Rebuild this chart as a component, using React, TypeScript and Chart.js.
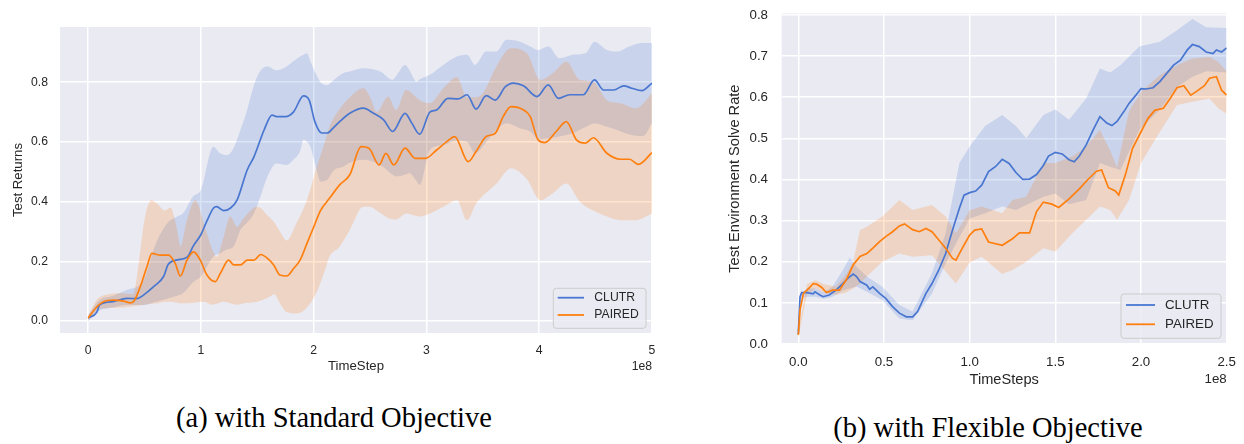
import React, { useEffect, useRef } from "react";
import { Chart, registerables } from "chart.js";

Chart.register(...registerables);

// ---------- shared ----------
const seriesNames = ["CLUTR", "PAIRED"];
const captionA = "(a) with Standard Objective";
const captionB = "(b) with Flexible Objective";
const BLUE = "#4876D0";
const ORANGE = "#FF7F0E";
const BLUE_FILL = "rgba(72,118,208,0.2)";
const ORANGE_FILL = "rgba(255,127,14,0.2)";
const PLOT_BG = "#EAEAF2";
const TEXT = "#262626";
const FONT = "'Liberation Sans', Arial, sans-serif";

// ---------- panel (a) : Standard Objective ----------
const aXTicks = [0, 1, 2, 3, 4, 5];
const aYTicks = [0, 0.2, 0.4, 0.6, 0.8];
// [timestep (1e8), mean]
const aClutrMean = [
  [0, 0.01], [0.077, 0.03], [0.1, 0.054], [0.22, 0.065], [0.34, 0.076], [0.43, 0.075], [0.49, 0.087],
  [0.58, 0.115], [0.67, 0.15], [0.71, 0.19], [0.79, 0.205], [0.88, 0.215], [0.93, 0.25], [1.0, 0.29],
  [1.05, 0.333], [1.11, 0.378], [1.14, 0.383], [1.2, 0.37], [1.26, 0.378], [1.32, 0.405], [1.41, 0.506],
  [1.47, 0.55], [1.56, 0.64], [1.63, 0.69], [1.67, 0.685], [1.75, 0.685], [1.82, 0.7], [1.91, 0.754],
  [1.96, 0.74], [2.01, 0.668], [2.07, 0.63], [2.12, 0.63], [2.18, 0.65], [2.23, 0.668], [2.32, 0.696],
  [2.44, 0.713], [2.53, 0.696], [2.62, 0.674], [2.7, 0.635], [2.81, 0.696], [2.87, 0.663], [2.94, 0.626],
  [3.03, 0.7], [3.09, 0.707], [3.19, 0.746], [3.28, 0.744], [3.36, 0.758], [3.44, 0.71], [3.53, 0.755],
  [3.61, 0.74], [3.7, 0.785], [3.77, 0.797], [3.86, 0.788], [3.98, 0.752], [4.08, 0.791], [4.17, 0.746],
  [4.27, 0.758], [4.39, 0.758], [4.49, 0.808], [4.57, 0.774], [4.66, 0.774], [4.75, 0.788], [4.82, 0.78],
  [4.91, 0.772], [5.0, 0.797],
];
// [timestep, upper, lower]
const aClutrBand = [
  [0, 0.02, 0.0], [0.1, 0.07, 0.035], [0.22, 0.085, 0.045], [0.34, 0.104, 0.054], [0.49, 0.137, 0.054],
  [0.6, 0.26, 0.065], [0.7, 0.327, 0.075], [0.79, 0.35, 0.085], [0.84, 0.36, 0.093], [0.93, 0.417, 0.13],
  [1.0, 0.44, 0.149], [1.11, 0.584, 0.216], [1.17, 0.562, 0.227], [1.23, 0.556, 0.24], [1.29, 0.58, 0.25],
  [1.35, 0.64, 0.305], [1.41, 0.707, 0.33], [1.47, 0.79, 0.361], [1.53, 0.84, 0.42], [1.59, 0.853, 0.484],
  [1.67, 0.84, 0.528], [1.76, 0.853, 0.523], [1.82, 0.87, 0.54], [1.88, 0.886, 0.57], [1.91, 0.892, 0.607],
  [1.94, 0.897, 0.6], [1.97, 0.87, 0.584], [2.03, 0.82, 0.5], [2.06, 0.8, 0.467], [2.12, 0.79, 0.473],
  [2.18, 0.808, 0.506], [2.26, 0.83, 0.517], [2.32, 0.836, 0.53], [2.44, 0.847, 0.54], [2.59, 0.836, 0.523],
  [2.7, 0.808, 0.49], [2.73, 0.82, 0.484], [2.81, 0.858, 0.49], [2.85, 0.84, 0.495], [2.91, 0.802, 0.47],
  [2.94, 0.81, 0.456], [3.03, 0.825, 0.573], [3.15, 0.858, 0.59], [3.27, 0.886, 0.605], [3.36, 0.892, 0.6],
  [3.43, 0.858, 0.562], [3.53, 0.903, 0.6], [3.62, 0.903, 0.64], [3.71, 0.942, 0.663], [3.83, 0.936, 0.646],
  [3.92, 0.92, 0.635], [3.99, 0.908, 0.61], [4.08, 0.92, 0.612], [4.18, 0.88, 0.618], [4.3, 0.892, 0.63],
  [4.41, 0.897, 0.65], [4.49, 0.936, 0.663], [4.6, 0.908, 0.651], [4.69, 0.903, 0.64], [4.8, 0.92, 0.625],
  [4.92, 0.931, 0.62], [5.0, 0.931, 0.663],
];
const aPairedMean = [
  [0, 0.01], [0.077, 0.048], [0.136, 0.065], [0.225, 0.07], [0.314, 0.067], [0.373, 0.061], [0.402, 0.065],
  [0.462, 0.115], [0.521, 0.182], [0.565, 0.227], [0.639, 0.221], [0.713, 0.221], [0.772, 0.193],
  [0.817, 0.151], [0.876, 0.204], [0.935, 0.232], [0.994, 0.204], [1.053, 0.154], [1.127, 0.132],
  [1.172, 0.16], [1.246, 0.204], [1.29, 0.188], [1.35, 0.188], [1.41, 0.204], [1.47, 0.204], [1.53, 0.223],
  [1.59, 0.21], [1.645, 0.188], [1.7, 0.154], [1.76, 0.151], [1.82, 0.175], [1.88, 0.205], [1.94, 0.26],
  [2.0, 0.315], [2.06, 0.37], [2.14, 0.411], [2.23, 0.456], [2.32, 0.49], [2.42, 0.584], [2.49, 0.579],
  [2.58, 0.523], [2.64, 0.562], [2.71, 0.523], [2.81, 0.579], [2.9, 0.545], [2.99, 0.545], [3.09, 0.573],
  [3.18, 0.601], [3.25, 0.618], [3.37, 0.534], [3.44, 0.568], [3.53, 0.618], [3.61, 0.629], [3.68, 0.685],
  [3.75, 0.718], [3.86, 0.707], [3.92, 0.685], [3.99, 0.607], [4.05, 0.598], [4.15, 0.635], [4.24, 0.668],
  [4.33, 0.607], [4.41, 0.596], [4.48, 0.614], [4.6, 0.562], [4.72, 0.542], [4.8, 0.542], [4.88, 0.525],
  [5.0, 0.564],
];
const aPairedBand = [
  [0, 0.02, 0.0], [0.1, 0.08, 0.04], [0.3, 0.093, 0.045], [0.4, 0.09, 0.05], [0.45, 0.2, 0.052],
  [0.5, 0.34, 0.055], [0.56, 0.405, 0.058], [0.62, 0.39, 0.06], [0.68, 0.37, 0.065], [0.73, 0.38, 0.065],
  [0.78, 0.32, 0.062], [0.82, 0.25, 0.06], [0.87, 0.33, 0.06], [0.95, 0.405, 0.062], [1.03, 0.32, 0.065],
  [1.1, 0.24, 0.055], [1.14, 0.215, 0.058], [1.2, 0.28, 0.065], [1.26, 0.35, 0.06], [1.32, 0.316, 0.055],
  [1.38, 0.345, 0.06], [1.5, 0.383, 0.065], [1.6, 0.35, 0.08], [1.65, 0.33, 0.09], [1.7, 0.3, 0.06],
  [1.76, 0.27, 0.03], [1.85, 0.33, 0.025], [1.94, 0.405, 0.045], [2.03, 0.52, 0.1], [2.1, 0.6, 0.17],
  [2.14, 0.651, 0.216], [2.23, 0.71, 0.249], [2.32, 0.75, 0.305], [2.44, 0.78, 0.383], [2.5, 0.75, 0.383],
  [2.56, 0.7, 0.37], [2.66, 0.752, 0.345], [2.73, 0.707, 0.34], [2.82, 0.774, 0.36], [2.94, 0.74, 0.35],
  [3.03, 0.73, 0.36], [3.15, 0.78, 0.383], [3.27, 0.817, 0.405], [3.36, 0.75, 0.338], [3.44, 0.75, 0.394],
  [3.5, 0.763, 0.42], [3.62, 0.853, 0.46], [3.75, 0.914, 0.512], [3.89, 0.897, 0.475], [4.01, 0.808, 0.405],
  [4.12, 0.83, 0.428], [4.24, 0.869, 0.461], [4.36, 0.808, 0.4], [4.48, 0.802, 0.37], [4.6, 0.74, 0.35],
  [4.72, 0.73, 0.338], [4.86, 0.713, 0.338], [5.0, 0.763, 0.36],
];

// ---------- panel (b) : Flexible Objective ----------
const bXTicks = [0, 0.5, 1.0, 1.5, 2.0, 2.5];
const bYTicks = [0, 0.1, 0.2, 0.3, 0.4, 0.5, 0.6, 0.7, 0.8];
const bClutrMean = [
  [0, 0.025], [0.01, 0.115], [0.02, 0.125], [0.05, 0.125], [0.087, 0.122], [0.097, 0.127], [0.126, 0.119],
  [0.145, 0.115], [0.18, 0.119], [0.22, 0.131], [0.26, 0.147], [0.29, 0.16], [0.32, 0.17], [0.34, 0.164],
  [0.36, 0.152], [0.4, 0.143], [0.416, 0.133], [0.435, 0.139], [0.474, 0.123], [0.51, 0.111], [0.55, 0.091],
  [0.59, 0.075], [0.63, 0.066], [0.667, 0.066], [0.696, 0.079], [0.745, 0.123], [0.78, 0.147], [0.82, 0.18],
  [0.86, 0.22], [0.9, 0.277], [0.94, 0.33], [0.967, 0.362], [1.0, 0.368], [1.035, 0.372], [1.07, 0.386],
  [1.11, 0.419], [1.15, 0.431], [1.19, 0.449], [1.23, 0.439], [1.27, 0.417], [1.31, 0.4], [1.35, 0.401],
  [1.39, 0.412], [1.43, 0.434], [1.46, 0.457], [1.5, 0.466], [1.54, 0.462], [1.58, 0.448], [1.61, 0.443],
  [1.64, 0.457], [1.68, 0.484], [1.72, 0.52], [1.76, 0.553], [1.8, 0.537], [1.83, 0.531], [1.86, 0.541],
  [1.9, 0.565], [1.93, 0.585], [1.97, 0.605], [2.0, 0.621], [2.03, 0.62], [2.07, 0.623], [2.11, 0.638],
  [2.15, 0.658], [2.19, 0.678], [2.23, 0.69], [2.27, 0.715], [2.3, 0.728], [2.34, 0.723], [2.38, 0.71],
  [2.42, 0.706], [2.44, 0.715], [2.47, 0.71], [2.5, 0.72],
];
const bClutrBand = [
  [0, 0.035, 0.02], [0.01, 0.12, 0.11], [0.05, 0.135, 0.115], [0.1, 0.135, 0.115], [0.15, 0.125, 0.11],
  [0.2, 0.14, 0.115], [0.26, 0.18, 0.13], [0.3, 0.21, 0.135], [0.34, 0.188, 0.14], [0.4, 0.164, 0.127],
  [0.49, 0.139, 0.107], [0.59, 0.095, 0.062], [0.667, 0.079, 0.058], [0.78, 0.172, 0.123], [0.86, 0.269, 0.196],
  [0.94, 0.44, 0.26], [1.0, 0.48, 0.305], [1.09, 0.53, 0.318], [1.19, 0.557, 0.334], [1.27, 0.53, 0.326],
  [1.33, 0.5, 0.338], [1.43, 0.557, 0.358], [1.5, 0.57, 0.366], [1.58, 0.545, 0.34], [1.68, 0.597, 0.35],
  [1.76, 0.67, 0.44], [1.82, 0.66, 0.431], [1.88, 0.678, 0.423], [1.99, 0.723, 0.52], [2.11, 0.735, 0.57],
  [2.21, 0.763, 0.625], [2.3, 0.79, 0.65], [2.38, 0.77, 0.663], [2.5, 0.768, 0.66],
];
const bPairedMean = [
  [0, 0.022], [0.01, 0.083], [0.03, 0.123], [0.068, 0.138], [0.087, 0.147], [0.106, 0.146], [0.135, 0.138],
  [0.164, 0.125], [0.2, 0.131], [0.24, 0.131], [0.28, 0.156], [0.32, 0.192], [0.36, 0.213], [0.4, 0.22],
  [0.435, 0.233], [0.474, 0.249], [0.51, 0.261], [0.55, 0.273], [0.59, 0.287], [0.62, 0.292], [0.667, 0.278],
  [0.706, 0.273], [0.745, 0.281], [0.78, 0.273], [0.82, 0.253], [0.86, 0.233], [0.9, 0.208], [0.92, 0.204],
  [0.957, 0.233], [1.0, 0.265], [1.03, 0.277], [1.07, 0.28], [1.11, 0.248], [1.19, 0.24], [1.25, 0.256],
  [1.29, 0.27], [1.35, 0.27], [1.39, 0.322], [1.43, 0.345], [1.48, 0.34], [1.52, 0.332], [1.58, 0.353],
  [1.64, 0.377], [1.69, 0.4], [1.74, 0.42], [1.77, 0.423], [1.81, 0.38], [1.85, 0.372], [1.87, 0.362],
  [1.91, 0.413], [1.95, 0.475], [2.0, 0.516], [2.04, 0.548], [2.08, 0.568], [2.13, 0.573], [2.17, 0.597],
  [2.21, 0.623], [2.25, 0.628], [2.29, 0.605], [2.32, 0.613], [2.37, 0.628], [2.4, 0.646], [2.44, 0.65],
  [2.47, 0.617], [2.5, 0.605],
];
const bPairedBand = [
  [0, 0.03, 0.015], [0.05, 0.145, 0.12], [0.1, 0.155, 0.135], [0.15, 0.145, 0.125], [0.22, 0.14, 0.12],
  [0.28, 0.17, 0.125], [0.32, 0.2, 0.135], [0.36, 0.277, 0.147], [0.4, 0.285, 0.164], [0.49, 0.31, 0.2],
  [0.59, 0.35, 0.22], [0.667, 0.326, 0.212], [0.78, 0.338, 0.216], [0.86, 0.31, 0.176], [0.92, 0.269, 0.147],
  [1.0, 0.325, 0.198], [1.07, 0.334, 0.212], [1.19, 0.318, 0.17], [1.25, 0.35, 0.18], [1.33, 0.358, 0.2],
  [1.43, 0.44, 0.233], [1.5, 0.44, 0.225], [1.6, 0.456, 0.27], [1.68, 0.48, 0.302], [1.76, 0.52, 0.334],
  [1.82, 0.47, 0.326], [1.86, 0.43, 0.302], [1.93, 0.565, 0.35], [2.0, 0.613, 0.44], [2.11, 0.654, 0.516],
  [2.21, 0.678, 0.581], [2.3, 0.694, 0.589], [2.4, 0.698, 0.597], [2.45, 0.686, 0.573], [2.5, 0.663, 0.56],
];

// ---------- plugins ----------
const plotBgPlugin = {
  id: "plotBg",
  beforeDraw(chart: any) {
    const { ctx, chartArea: a } = chart;
    ctx.save();
    ctx.fillStyle = PLOT_BG;
    ctx.fillRect(a.left, a.top, a.right - a.left, a.bottom - a.top);
    ctx.restore();
  },
};

const extrasPlugin = {
  id: "extras",
  afterDraw(chart: any, _args: any, o: any) {
    const { ctx, chartArea: a } = chart;
    ctx.save();
    // offset text ("1e8")
    ctx.fillStyle = TEXT;
    ctx.font = `${o.fontSize}px ${FONT}`;
    ctx.textAlign = "right";
    ctx.textBaseline = "alphabetic";
    ctx.fillText(o.offsetText, a.right, a.bottom + o.offsetDy);

    // legend box
    const x0 = a.right - o.boxRight - o.boxW;
    const y0 = a.bottom - o.boxBottom - o.boxH;
    ctx.beginPath();
    if (ctx.roundRect) ctx.roundRect(x0, y0, o.boxW, o.boxH, 3);
    else ctx.rect(x0, y0, o.boxW, o.boxH);
    ctx.fillStyle = "rgba(234,234,242,0.8)";
    ctx.fill();
    ctx.strokeStyle = "#CCCCCC";
    ctx.lineWidth = 1;
    ctx.stroke();
    ctx.textAlign = "left";
    ctx.textBaseline = "middle";
    seriesNames.forEach((name, i) => {
      const ds = chart.data.datasets.find((d: any) => d.label === name);
      const y = y0 + o.rowY[i];
      ctx.strokeStyle = ds.borderColor;
      ctx.lineWidth = 1.8;
      ctx.beginPath();
      ctx.moveTo(x0 + o.lineX, y);
      ctx.lineTo(x0 + o.lineX + o.lineLen, y);
      ctx.stroke();
      ctx.fillStyle = TEXT;
      ctx.fillText(name, x0 + o.textX, y);
    });
    ctx.restore();
  },
};

function buildDatasets(p: any) {
  const curve = p.smooth ? { cubicInterpolationMode: "monotone" } : { tension: 0 };
  const pts = (arr: number[][], k: number) => arr.map((r) => ({ x: r[0], y: r[k] }));
  const band = { borderWidth: 0, borderColor: "rgba(0,0,0,0)", pointRadius: 0, ...curve };
  const line = { borderWidth: 1.7, pointRadius: 0, fill: false, ...curve };
  return [
    { label: "PAIRED upper", data: pts(p.pairedBand, 1), fill: "+1", backgroundColor: ORANGE_FILL, ...band },
    { label: "PAIRED lower", data: pts(p.pairedBand, 2), fill: false, ...band },
    { label: "CLUTR upper", data: pts(p.clutrBand, 1), fill: "+1", backgroundColor: BLUE_FILL, ...band },
    { label: "CLUTR lower", data: pts(p.clutrBand, 2), fill: false, ...band },
    { label: seriesNames[1], data: pts(p.pairedMean, 1), borderColor: ORANGE, ...line },
    { label: seriesNames[0], data: pts(p.clutrMean, 1), borderColor: BLUE, ...line },
  ];
}

function buildConfig(p: any): any {
  const grid = { color: "#FFFFFF", lineWidth: 1.5, drawTicks: false };
  return {
    type: "line",
    data: { datasets: buildDatasets(p) },
    plugins: [plotBgPlugin, extrasPlugin],
    options: {
      responsive: false,
      animation: false,
      events: [],
      layout: { padding: p.padding },
      plugins: {
        legend: { display: false },
        tooltip: { enabled: false },
        filler: { drawTime: "beforeDatasetsDraw" },
        extras: p.extras,
      },
      scales: {
        x: {
          type: "linear",
          min: p.xRange[0],
          max: p.xRange[1],
          grid,
          border: { display: false },
          afterBuildTicks: (s: any) => { s.ticks = p.xTicks.map((v: number) => ({ value: v })); },
          afterFit: (s: any) => { s.height = p.xAxisH; s.paddingLeft = 0; s.paddingRight = 0; },
          ticks: {
            padding: p.xTickPad,
            color: TEXT,
            maxRotation: 0,
            font: { family: FONT, size: p.tickSize },
            callback: (v: number) => p.xFmt(v),
          },
          title: {
            display: true,
            text: p.xTitle,
            color: TEXT,
            padding: { top: 0, bottom: p.xTitlePad },
            font: { family: FONT, size: p.titleSize },
          },
        },
        y: {
          type: "linear",
          min: p.yRange[0],
          max: p.yRange[1],
          grid,
          border: { display: false },
          afterBuildTicks: (s: any) => { s.ticks = p.yTicks.map((v: number) => ({ value: v })); },
          afterFit: (s: any) => { s.width = p.yAxisW; s.paddingTop = 0; s.paddingBottom = 0; },
          ticks: {
            padding: p.yTickPad,
            color: TEXT,
            font: { family: FONT, size: p.tickSize },
            callback: (v: number) => v.toFixed(1),
          },
          title: {
            display: true,
            text: p.yTitle,
            color: TEXT,
            padding: { top: p.yTitlePad, bottom: 0 },
            font: { family: FONT, size: p.titleSize },
          },
        },
      },
    },
  };
}

const panelA = {
  clutrMean: aClutrMean, clutrBand: aClutrBand, pairedMean: aPairedMean, pairedBand: aPairedBand,
  smooth: true, xTicks: aXTicks, yTicks: aYTicks, xRange: [-0.25, 5], yRange: [-0.04, 0.985],
  xFmt: (v: number) => String(v), xTitle: "TimeStep", yTitle: "Test Returns",
  padding: { left: 0, top: 27, right: 18, bottom: 12 }, xAxisH: 45, yAxisW: 60,
  tickSize: 12.2, titleSize: 13.2, xTickPad: 10.5, yTickPad: 12, xTitlePad: 3.7, yTitlePad: 10.8,
  extras: { offsetText: "1e8", offsetDy: 37, fontSize: 12.2, boxRight: 6, boxBottom: 4.7, boxW: 92.7, boxH: 40,
    lineX: 4.4, lineLen: 26.3, textX: 41, rowY: [9.4, 26.7] },
};

const panelB = {
  clutrMean: bClutrMean, clutrBand: bClutrBand, pairedMean: bPairedMean, pairedBand: bPairedBand,
  smooth: false, xTicks: bXTicks, yTicks: bYTicks, xRange: [-0.097, 2.5], yRange: [0, 0.804],
  xFmt: (v: number) => v.toFixed(1), xTitle: "TimeSteps", yTitle: "Test Environment Solve Rate",
  padding: { left: 0, top: 13.3, right: 17.3, bottom: 6 }, xAxisH: 50, yAxisW: 101.7,
  tickSize: 13.3, titleSize: 14.6, xTickPad: 10.7, yTickPad: 13.7, xTitlePad: 4.8, yTitlePad: 46.6,
  extras: { offsetText: "1e8", offsetDy: 39.3, fontSize: 13.3, boxRight: 5.7, boxBottom: 5.7, boxW: 100, boxH: 44.3,
    lineX: 5, lineLen: 29, textX: 44, rowY: [11, 30.3] },
};

function Panel({ panel, left, width, height }: any) {
  const ref = useRef<HTMLCanvasElement | null>(null);
  useEffect(() => {
    if (!ref.current) return;
    const chart = new Chart(ref.current, buildConfig(panel));
    return () => chart.destroy();
  }, [panel]);
  return (
    <canvas
      ref={ref}
      width={width}
      height={height}
      style={{ position: "absolute", left, top: 0, width, height }}
    />
  );
}

const captionStyle: React.CSSProperties = {
  position: "absolute",
  width: 600,
  textAlign: "center",
  fontFamily: "'Liberation Serif', 'Times New Roman', serif",
  fontSize: 28.5,
  lineHeight: "28.5px",
  color: "#000",
  whiteSpace: "nowrap",
};

export default function App() {
  return (
    <div style={{ position: "absolute", left: 0, top: 0, width: 1244, height: 444, background: "#fff", overflow: "hidden" }}>
      <Panel panel={panelA} left={0} width={670} height={390} />
      <Panel panel={panelB} left={680} width={564} height={400} />
      <div style={{ ...captionStyle, left: 34, top: 404 }}>{captionA}</div>
      <div style={{ ...captionStyle, left: 688, top: 414 }}>{captionB}</div>
    </div>
  );
}
